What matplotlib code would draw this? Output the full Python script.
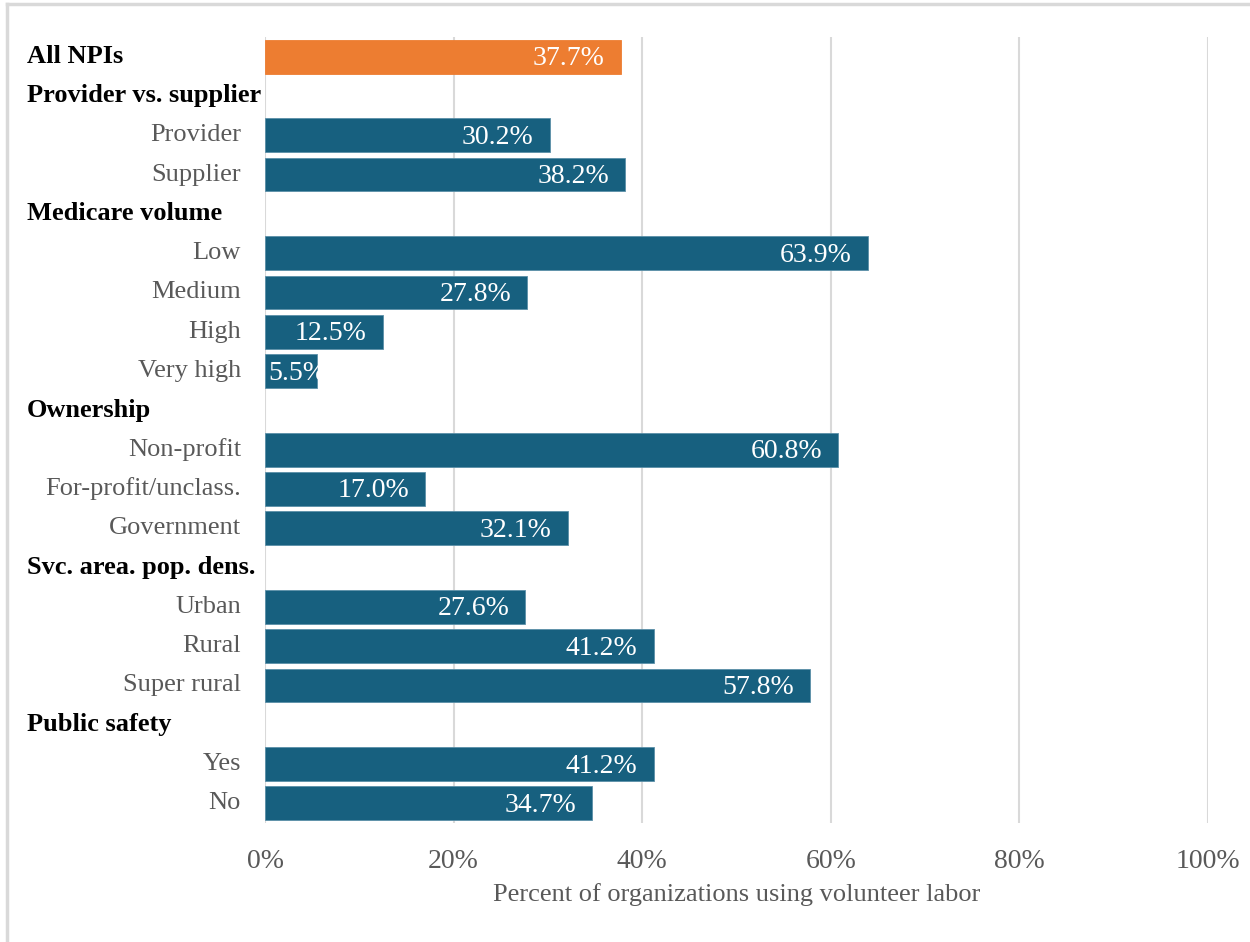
"""Horizontal bar chart: share of organizations using volunteer labor, by group."""

import matplotlib.pyplot as plt
from matplotlib.lines import Line2D
from matplotlib.transforms import blended_transform_factory

plt.rcParams["font.family"] = ["Liberation Serif", "DejaVu Serif"]

# Rows from top to bottom; group headers carry no value.
row_labels = [
    "All NPIs",
    "Provider vs. supplier", "Provider", "Supplier",
    "Medicare volume", "Low", "Medium", "High", "Very high",
    "Ownership", "Non-profit", "For-profit/unclass.", "Government",
    "Svc. area. pop. dens.", "Urban", "Rural", "Super rural",
    "Public safety", "Yes", "No",
]
row_kind = [
    "total",
    "header", "item", "item",
    "header", "item", "item", "item", "item",
    "header", "item", "item", "item",
    "header", "item", "item", "item",
    "header", "item", "item",
]
row_values = [
    37.7,
    None, 30.2, 38.2,
    None, 63.9, 27.8, 12.5, 5.5,
    None, 60.8, 17.0, 32.1,
    None, 27.6, 41.2, 57.8,
    None, 41.2, 34.7,
]
x_ticks = [0, 20, 40, 60, 80, 100]
x_label = "Percent of organizations using volunteer labor"

ORANGE = "#ED7D31"
BLUE = "#17607F"
GRID = "#D9D9D9"
GRAY_TEXT = "#595959"
FS = 19

fig = plt.figure(figsize=(12.5, 9.42), dpi=100)
ax = fig.add_axes([0.212, 0.1263, 0.7544, 0.8344])

for i, (kind, val) in enumerate(zip(row_kind, row_values)):
    if val is None:
        continue
    color = ORANGE if kind == "total" else BLUE
    edge = ORANGE if kind == "total" else "#5B8FA8"
    ax.barh(i, val, height=0.86, color=color, edgecolor=edge, linewidth=0.6, zorder=3)
    label = f"{val:.1f}%"
    if val < 8:
        ax.text(0.3, i + 0.05, label, color="white", fontsize=FS + 1, ha="left",
                va="center", zorder=4)
    else:
        ax.text(val - 1.7, i + 0.05, label, color="white", fontsize=FS + 1, ha="right",
                va="center", zorder=4)

ax.set_xlim(0, 100)
ax.set_ylim(len(row_labels) - 0.5, -0.5)
ax.set_xticks(x_ticks)
ax.set_xticklabels([f"{t}%" for t in x_ticks], fontsize=FS + 1, color=GRAY_TEXT)
ax.tick_params(axis="x", length=0, pad=19)
ax.set_yticks([])
ax.set_xlabel(x_label, fontsize=FS, color=GRAY_TEXT, labelpad=6)
ax.grid(axis="x", color=GRID, linewidth=1.5, zorder=0)
for s in ax.spines.values():
    s.set_visible(False)

# Row labels: bold headers flush left, items right-aligned next to the axis
fig_x = blended_transform_factory(fig.transFigure, ax.transData)
for i, (text, kind) in enumerate(zip(row_labels, row_kind)):
    if kind == "item":
        ax.annotate(text, xy=(0, i), xycoords=("axes fraction", "data"),
                    xytext=(-24, 0), textcoords="offset pixels",
                    ha="right", va="center", fontsize=FS, color=GRAY_TEXT)
    else:
        ax.text(27 / 1250, i, text, transform=fig_x, ha="left", va="center",
                fontsize=FS, fontweight="bold", color="black")

# Light frame around the chart area
fig.add_artist(Line2D([7 / 1250, 7 / 1250], [0, 1 - 4 / 942], color=GRID, linewidth=2.5,
                      transform=fig.transFigure))
fig.add_artist(Line2D([7 / 1250, 1], [1 - 4 / 942, 1 - 4 / 942], color=GRID, linewidth=2.5,
                      transform=fig.transFigure))

fig.savefig("out.png", dpi=100)
